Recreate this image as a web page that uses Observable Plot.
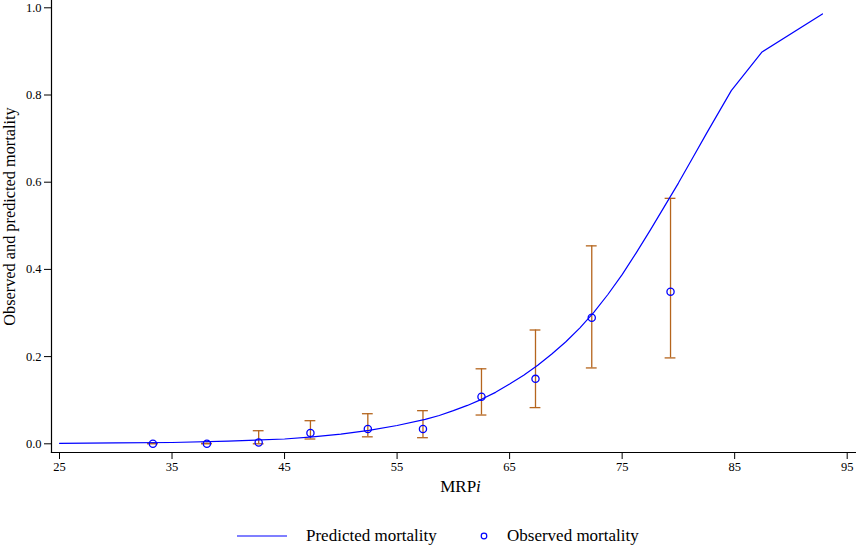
<!DOCTYPE html>
<html>
<head>
<meta charset="utf-8">
<script src="https://cdn.jsdelivr.net/npm/d3@7"></script>
<script src="https://cdn.jsdelivr.net/npm/@observablehq/plot@0.6"></script>
<style>
  html, body { margin: 0; padding: 0; background: #fff; }
  #wrap { width: 856px; position: relative; }
  #legend { position: relative; width: 856px; height: 31px; font-family: "Liberation Serif", serif; font-size: 17px; color: #000; }
</style>
</head>
<body>
<div id="wrap"></div>
<script>
// Observed mortality by MRPi group
const obsMRPi   = [33.3, 38.1, 42.7, 47.3, 52.4, 57.3, 62.5, 67.3, 72.3, 79.3];
const obsValue  = [0.000, 0.000, 0.003, 0.025, 0.034, 0.034, 0.108, 0.149, 0.289, 0.349];
const obsLower  = [0.000, 0.000, 0.000, 0.011, 0.016, 0.014, 0.066, 0.083, 0.174, 0.197];
const obsUpper  = [0.001, 0.001, 0.030, 0.053, 0.069, 0.076, 0.172, 0.261, 0.454, 0.563];

// Predicted mortality curve
const predMRPi  = [25, 30, 35, 40, 45, 47.5, 50, 52.5, 55, 57.5, 58.75, 60, 61.25, 62.5, 63.75, 65, 66.25, 67.5, 68.75, 70, 71.25, 72.5, 73.75, 75, 76.25, 77.5, 78.75, 80, 81.25, 82.5, 84.7, 87.4, 92.8];
const predValue = [0.001, 0.002, 0.003, 0.006, 0.011, 0.016, 0.022, 0.031, 0.042, 0.056, 0.065, 0.076, 0.088, 0.102, 0.118, 0.137, 0.157, 0.180, 0.206, 0.234, 0.266, 0.302, 0.343, 0.388, 0.438, 0.490, 0.544, 0.598, 0.655, 0.712, 0.810, 0.898, 0.986];

// Axis ticks
const xTicks = [25, 35, 45, 55, 65, 75, 85, 95];
const yTicks = [0, 0.2, 0.4, 0.6, 0.8, 1.0];

const observed = obsMRPi.map((x, i) => ({x, y: obsValue[i], lo: obsLower[i], hi: obsUpper[i]}));
const predicted = predMRPi.map((x, i) => ({x, y: predValue[i]}));

const barColor = "#b5651d";
const capHalf = 0.48;

const chart = Plot.plot({
  width: 856,
  height: 515,
  marginLeft: 51,
  marginRight: 1,
  marginTop: 0,
  marginBottom: 63,
  style: {fontFamily: "Liberation Serif, serif", fontSize: "12.5px", color: "#000", background: "#fff"},
  x: {domain: [25, 95], insetLeft: 8, insetRight: 8.3},
  y: {domain: [0, 1], insetTop: 7.3, insetBottom: 8.7},
  marks: [
    Plot.frame({anchor: "left", stroke: "#000", strokeWidth: 1.2}),
    Plot.frame({anchor: "bottom", stroke: "#000", strokeWidth: 1.2}),
    Plot.axisX({ticks: xTicks, tickSize: 7, tickPadding: 3, label: null, tickFormat: d3.format("d")}),
    Plot.axisY({ticks: yTicks, tickSize: 7, tickPadding: 3, label: null, tickFormat: d3.format(".1f")}),
    Plot.ruleX(observed, {x: "x", y1: "lo", y2: "hi", stroke: barColor, strokeWidth: 1.3}),
    Plot.ruleY(observed, {y: "lo", x1: d => d.x - capHalf, x2: d => d.x + capHalf, stroke: barColor, strokeWidth: 1.3}),
    Plot.ruleY(observed, {y: "hi", x1: d => d.x - capHalf, x2: d => d.x + capHalf, stroke: barColor, strokeWidth: 1.3}),
    Plot.line(predicted, {x: "x", y: "y", stroke: "#0000ff", strokeWidth: 1.2}),
    Plot.dot(observed, {x: "x", y: "y", r: 3.6, stroke: "#0000ff", strokeWidth: 1.3, fill: "none"}),
    Plot.text(["Observed and predicted mortality"], {frameAnchor: "left", rotate: -90, dx: -42, dy: -10, fontSize: 16.3, textAnchor: "middle", fill: "#000"}),
    Plot.text(["MRPi"], {frameAnchor: "bottom", dx: 7, dy: 39, fontSize: 17, textAnchor: "middle", fill: "#000", className: "xlabel"})
  ]
});

// italicise the trailing "i" of the x label
d3.select(chart).selectAll(".xlabel text").each(function() {
  const t = d3.select(this);
  if (t.text() === "MRPi") {
    t.text("MRP");
    t.append("tspan").attr("font-style", "italic").text("i");
  }
});

document.getElementById("wrap").appendChild(chart);

// Legend below the chart
const legend = d3.select("#wrap").append("div").attr("id", "legend");
const lsvg = legend.append("svg").attr("width", 856).attr("height", 31)
  .style("font-family", "Liberation Serif, serif").style("font-size", "17px");
const legendItems = [
  {label: "Predicted mortality", kind: "line"},
  {label: "Observed mortality", kind: "dot"}
];
const lx = [237, 484];
const tx = [306, 507];
legendItems.forEach((item, i) => {
  if (item.kind === "line") {
    lsvg.append("line").attr("x1", lx[i]).attr("x2", lx[i] + 50).attr("y1", 21).attr("y2", 21)
      .attr("stroke", "#0000ff").attr("stroke-width", 1.2);
  } else {
    lsvg.append("circle").attr("cx", lx[i]).attr("cy", 21).attr("r", 2.8)
      .attr("stroke", "#0000ff").attr("stroke-width", 1.2).attr("fill", "none");
  }
  lsvg.append("text").attr("x", tx[i]).attr("y", 21).attr("dy", "0.32em").attr("fill", "#000").text(item.label);
});
</script>
</body>
</html>
